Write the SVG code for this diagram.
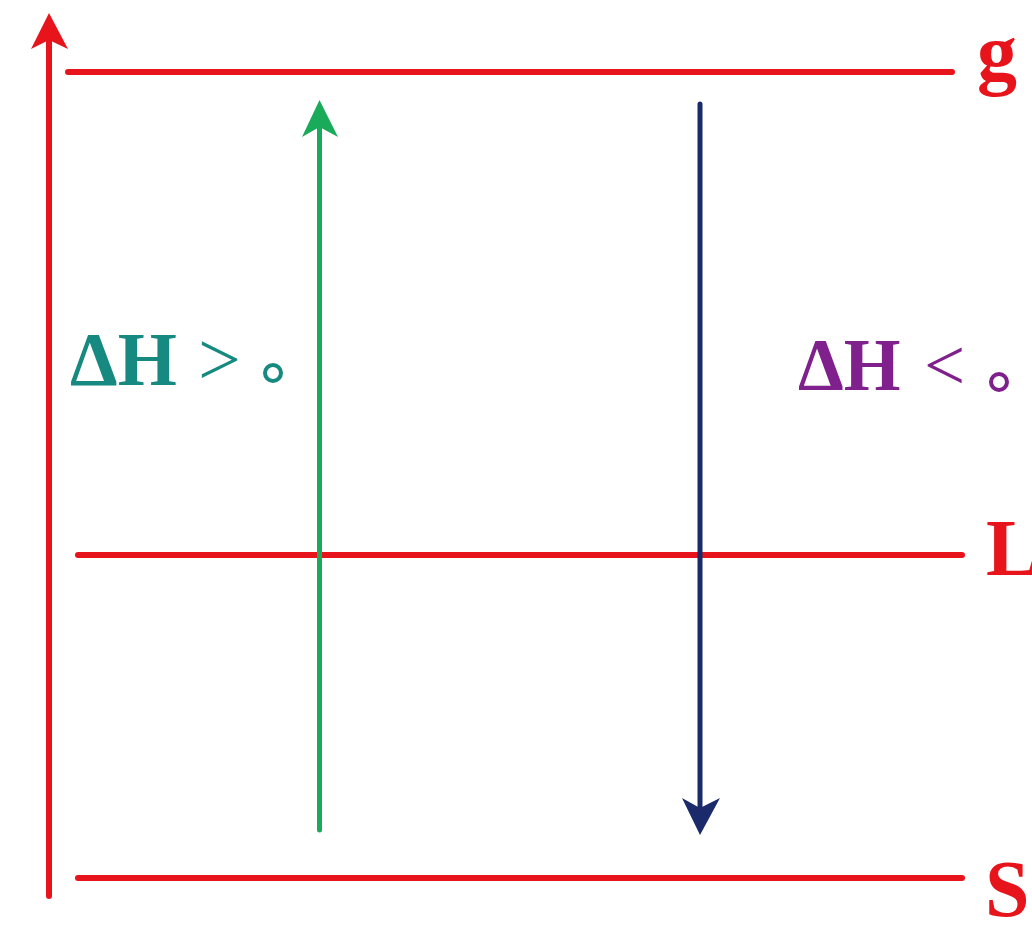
<svg xmlns="http://www.w3.org/2000/svg" width="1032" height="929" viewBox="0 0 1032 929">
<style>
.lvl{stroke:#e8141c;stroke-width:6;stroke-linecap:round;fill:none}
.lab{font-family:"Liberation Serif","Times New Roman",serif;font-weight:bold;fill:#e8141c;font-size:80px}
.dh{font-family:"Liberation Serif","Times New Roman",serif}
</style>
<rect width="1032" height="929" fill="#ffffff"/>
<g id="axis">
<line x1="49" y1="896" x2="49" y2="40" class="lvl" stroke-width="5"/>
<polygon points="49,13 68,49 49,40 31,49" fill="#e8141c"/>
</g>
<g id="level-g">
<line x1="68" y1="72" x2="952" y2="72" class="lvl"/>
<text x="977" y="80" class="lab">g</text>
</g>
<g id="level-L">
<line x1="78" y1="555" x2="962" y2="555" class="lvl"/>
<text x="986" y="575" class="lab">L</text>
</g>
<g id="level-S">
<line x1="78" y1="878" x2="962" y2="878" class="lvl"/>
<text x="985" y="916" class="lab" font-size="78">S</text>
</g>
<g id="connectors">
<line x1="319.5" y1="830" x2="319.5" y2="125" stroke="#1aab5a" stroke-width="5" stroke-linecap="round"/>
<polygon points="319.5,100 338,137 319.5,127 302,137" fill="#1aab5a"/>
<line x1="700" y1="104" x2="700" y2="810" stroke="#1a2a6a" stroke-width="5" stroke-linecap="round"/>
<polygon points="700,835 720,798 700,808 682,798" fill="#1a2a6a"/>
</g>
<g id="label-endo">
<text class="dh" y="385" font-size="76" fill="#168a80"><tspan x="70" font-weight="bold">ΔH</tspan><tspan x="198">&gt;</tspan></text>
<circle cx="273" cy="373" r="8" fill="none" stroke="#168a80" stroke-width="4"/>
</g>
<g id="label-exo">
<text class="dh" y="390" font-size="73" fill="#80208c"><tspan x="798" font-weight="bold">ΔH</tspan><tspan x="924">&lt;</tspan></text>
<circle cx="999" cy="382" r="8" fill="none" stroke="#80208c" stroke-width="4"/>
</g>
</svg>
